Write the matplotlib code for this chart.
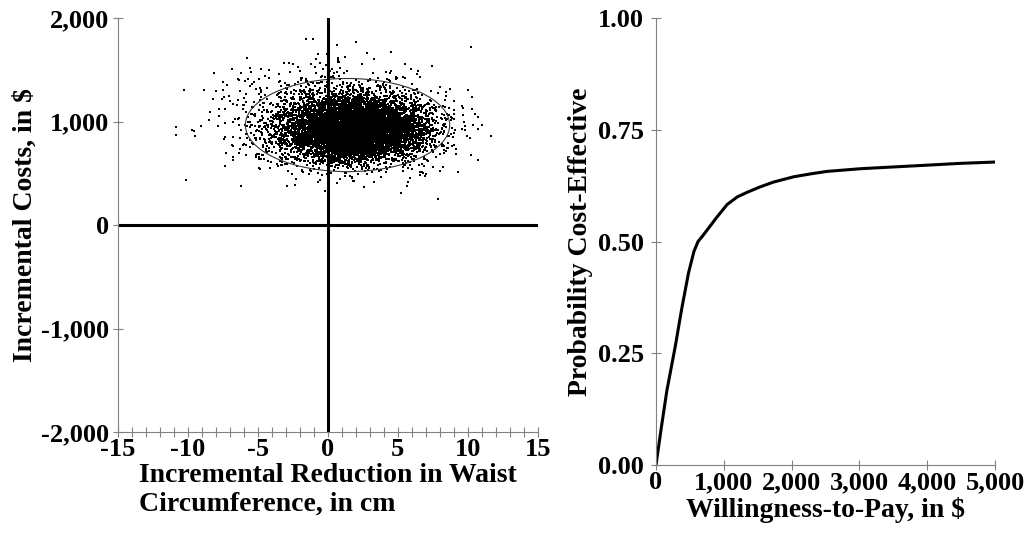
import numpy as np
import matplotlib
matplotlib.use('Agg')
import matplotlib.pyplot as plt
from matplotlib.patches import Ellipse

plt.rcParams['font.family'] = ['Liberation Serif', 'DejaVu Serif']
plt.rcParams['font.weight'] = 'bold'

# left panel: cost-effectiveness plane (bootstrap cloud, read as centre/spread
# of a dense core and a wider halo)
core_n, core_mean, core_sd = 7500, (2.0, 920), (2.4, 140)
halo_n, halo_mean, halo_sd = 1800, (0.8, 1000), (3.6, 240)
ellipse_center = (1.4, 966)
ellipse_size = (14.6, 900)              # full width, full height

x_ticks = [-15, -10, -5, 0, 5, 10, 15]
x_ticklabels = ['-15', '-10', '-5', '0', '5', '10', '15']
y_ticks = [-2000, -1000, 0, 1000, 2000]
y_ticklabels = ['-2,000', '-1,000', '0', '1,000', '2,000']

# right panel: acceptability curve
wtp = [0, 80, 160, 285, 380, 480, 560, 620, 700, 800, 900, 1050, 1200, 1340,
       1530, 1730, 2030, 2300, 2520, 3010, 3500, 4000, 4480, 5000]
prob = [0.0, 0.085, 0.166, 0.266, 0.35, 0.43, 0.478, 0.5, 0.515, 0.535, 0.555,
        0.583, 0.6, 0.61, 0.622, 0.633, 0.645, 0.652, 0.657, 0.663, 0.667,
        0.671, 0.675, 0.678]
wtp_ticks = [0, 1000, 2000, 3000, 4000, 5000]
wtp_ticklabels = ['0', '1,000', '2,000', '3,000', '4,000', '5,000']
prob_ticks = [0, 0.25, 0.5, 0.75, 1.0]
prob_ticklabels = ['0.00', '0.25', '0.50', '0.75', '1.00']

fs = 20
tfs = 19
spine_col = '#808080'

fig = plt.figure(figsize=(10.29, 5.39), dpi=100)
ax1 = fig.add_axes([0.1147, 0.1985, 0.408, 0.768])
ax2 = fig.add_axes([0.6375, 0.1373, 0.3294, 0.829])

# scatter cloud
rng = np.random.default_rng(7)
core = rng.normal(core_mean, core_sd, (core_n, 2))
halo = rng.normal(halo_mean, halo_sd, (halo_n, 2))
pts = np.vstack([core, halo])
ax1.scatter(pts[:, 0], pts[:, 1], s=0.6, marker='s', color='black', linewidths=0)
ax1.add_patch(Ellipse(ellipse_center, ellipse_size[0], ellipse_size[1],
                      fill=False, edgecolor='#333333', lw=0.8))
ax1.plot([0, 0], [-2000, 2000], color='black', lw=2.2)
ax1.plot([-15, 15], [0, 0], color='black', lw=2.2)

ax1.set_xlim(-15, 15)
ax1.set_ylim(-2000, 2000)
ax1.set_xticks(x_ticks)
ax1.set_xticklabels(x_ticklabels, fontsize=tfs, fontweight='bold')
ax1.set_xticks(np.arange(-15, 16, 1), minor=True)
ax1.set_yticks(y_ticks)
ax1.set_yticklabels(y_ticklabels, fontsize=tfs, fontweight='bold')
ax1.tick_params(axis='x', which='both', direction='inout', length=7, width=0.8,
                color=spine_col, pad=1)
ax1.tick_params(axis='y', direction='inout', length=7, width=0.8, color=spine_col, pad=3)
ax1.set_xlabel('Incremental Reduction in Waist\nCircumference, in cm',
               fontsize=fs, fontweight='bold', multialignment='left', labelpad=1,
               linespacing=1.2)
ax1.set_ylabel('Incremental Costs, in $', fontsize=fs, fontweight='bold', labelpad=2)

for ax in (ax1, ax2):
    ax.spines['top'].set_visible(False)
    ax.spines['right'].set_visible(False)
    ax.spines['left'].set_color(spine_col)
    ax.spines['bottom'].set_color(spine_col)
    ax.spines['left'].set_linewidth(0.8)
    ax.spines['bottom'].set_linewidth(0.8)

ax2.plot(wtp, prob, color='black', lw=2.2)
ax2.set_xlim(0, 5000)
ax2.set_ylim(0, 1.0)
ax2.set_xticks(wtp_ticks)
ax2.set_xticklabels(wtp_ticklabels, fontsize=tfs, fontweight='bold')
ax2.set_yticks(prob_ticks)
ax2.set_yticklabels(prob_ticklabels, fontsize=tfs, fontweight='bold')
ax2.tick_params(axis='x', direction='inout', length=7, width=0.8, color=spine_col, pad=1)
ax2.tick_params(axis='y', direction='inout', length=7, width=0.8, color=spine_col, pad=5)
ax2.set_xlabel('Willingness-to-Pay, in $', fontsize=fs, fontweight='bold', labelpad=2)
ax2.set_ylabel('Probability Cost-Effective', fontsize=fs, fontweight='bold', labelpad=4)

fig.savefig('out.png', dpi=100)
